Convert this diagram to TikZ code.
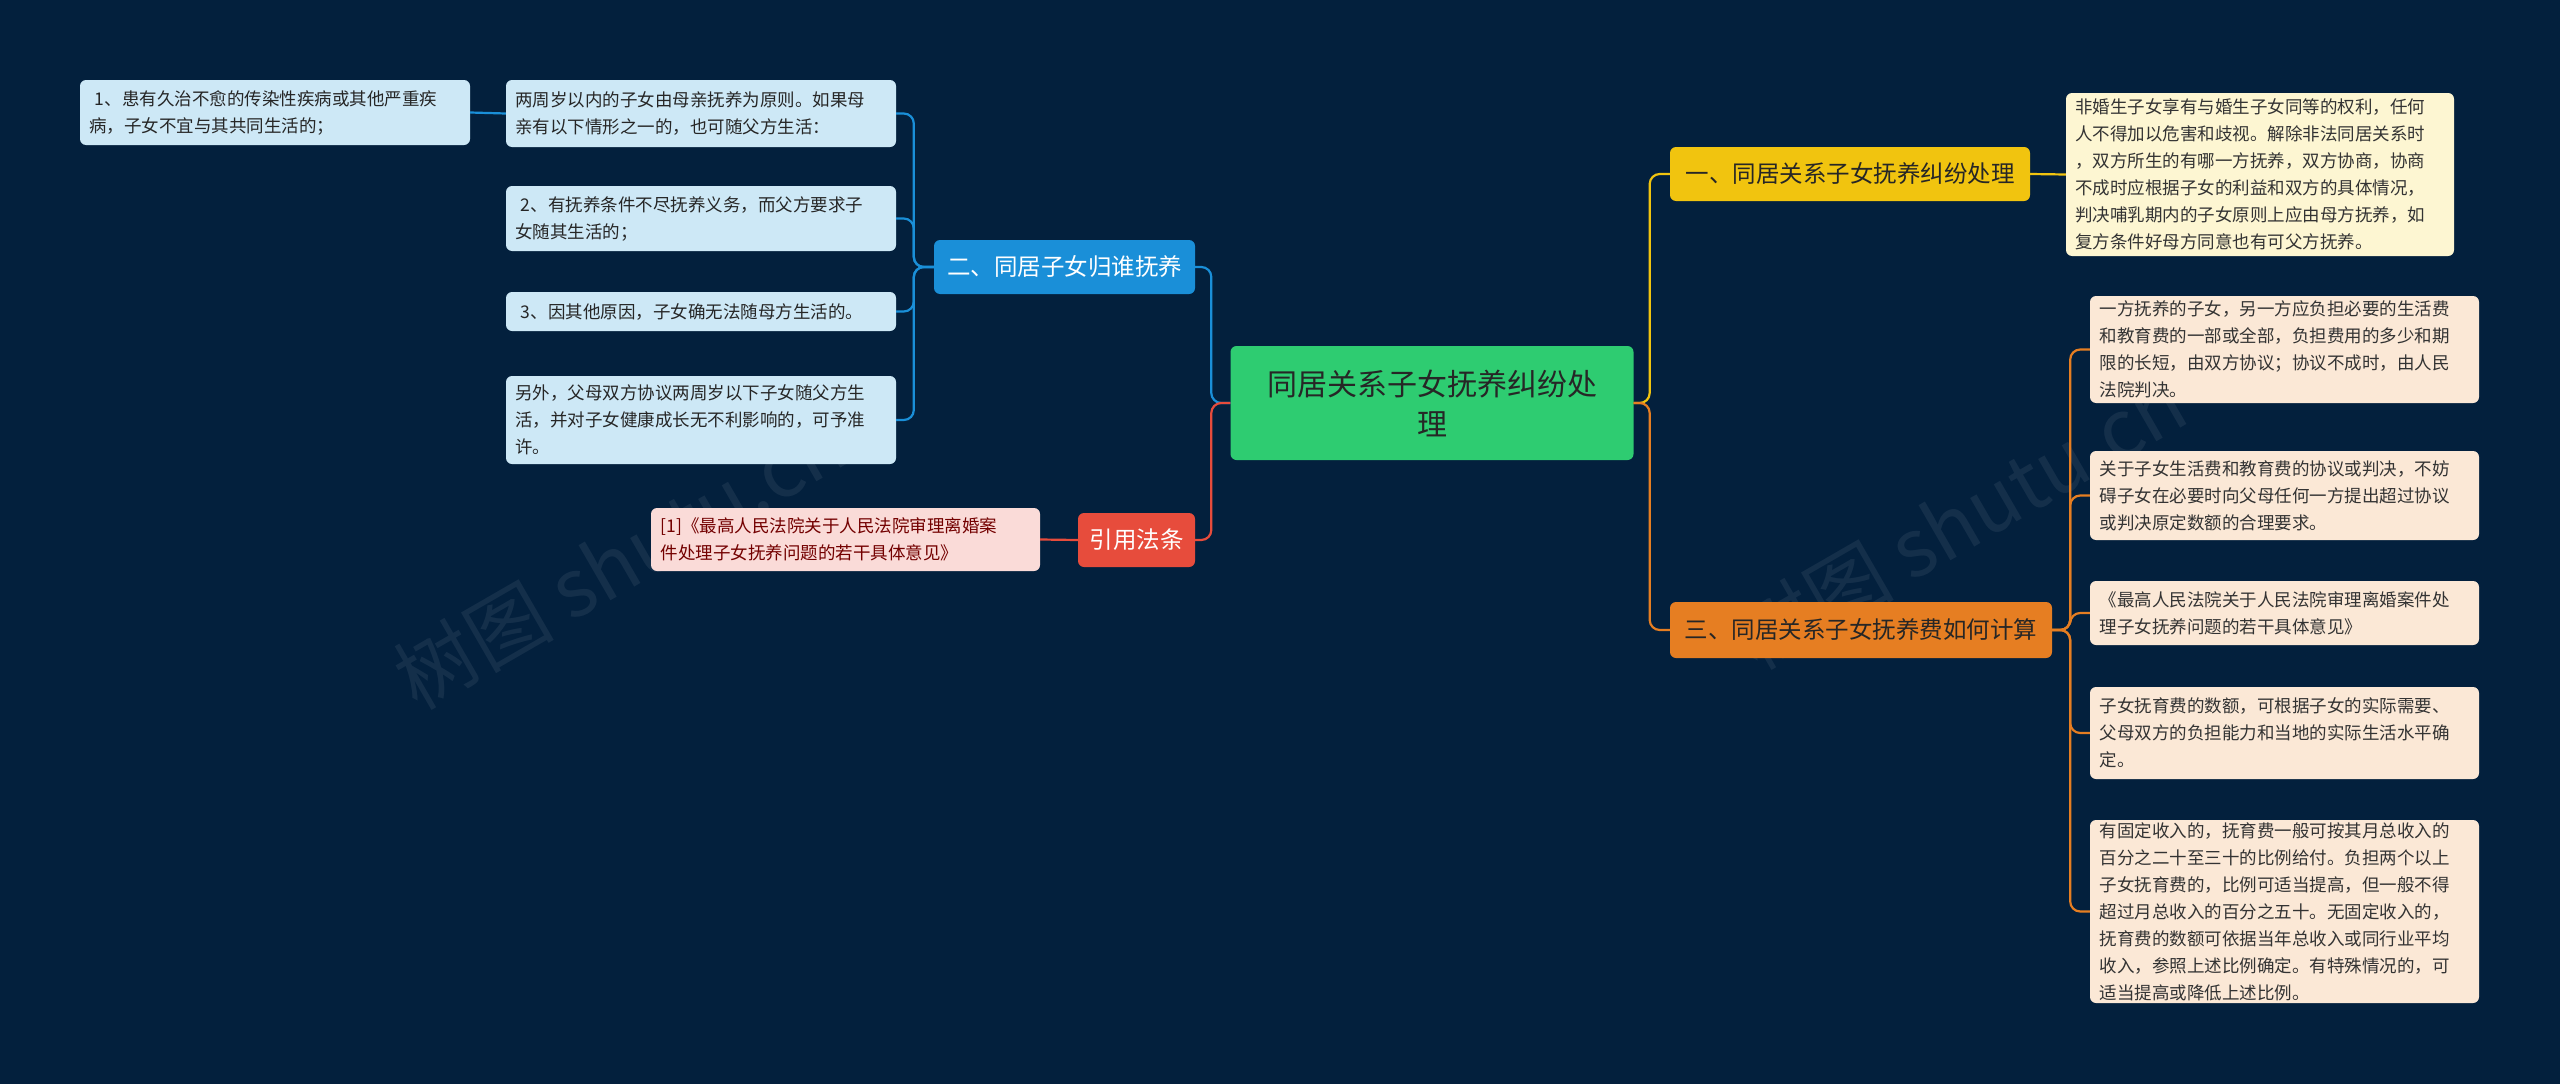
\documentclass[tikz,border=0pt]{standalone}
\usepackage{fontspec}
\setmainfont{Noto Sans CJK SC}
\begin{document}
\begin{tikzpicture}[x=1pt,y=-1pt,
  box/.style={rounded corners=6pt, inner sep=0pt, align=left, font=\fontsize{17.5}{27}\selectfont},
  leafb/.style={box, fill=lb, text=black!85},
  leafy/.style={box, fill=ly, text=black!80},
  leafo/.style={box, fill=lo, text=black!80},
  leafr/.style={box, fill=lr, text=red!45!black},
  br/.style={rounded corners=6pt, inner sep=0pt, font=\fontsize{23.5}{28}\selectfont},
  con/.style={line width=2.2pt, rounded corners=10pt}]
\definecolor{bg}{HTML}{03203D}
\definecolor{lb}{HTML}{CDE8F6}
\definecolor{ly}{HTML}{FDF6D2}
\definecolor{lo}{HTML}{FBE8D6}
\definecolor{lr}{HTML}{FADBD8}
\definecolor{cg}{HTML}{2ECC71}
\definecolor{cy}{HTML}{F1C40F}
\definecolor{co}{HTML}{E67E22}
\definecolor{cb}{HTML}{1A8FD8}
\definecolor{cr}{HTML}{E74C3C}
\fill[bg] (0,0) rectangle (2560,1084);
\useasboundingbox (0,0) rectangle (2560,1084);
% watermarks
\node[rotate=30, text=white, opacity=0.07, font=\fontsize{80}{80}\selectfont] (wm1) at (620,560) {树图 shutu.cn};
\node[rotate=30, text=white, opacity=0.07, font=\fontsize{80}{80}\selectfont] (wm2) at (1960,520) {树图 shutu.cn};
% center
\node[rounded corners=6pt, fill=cg, minimum width=403, minimum height=114, align=center, text width=380, font=\fontsize{30}{40}\selectfont, text=black!85] (c) at (1432,403) {同居关系子女抚养纠纷处\\理};
% right branches
\node[br, fill=cy, minimum width=360, minimum height=54, text=black!85] (b1) at (1850,174) {一、同居关系子女抚养纠纷处理};
\node[br, fill=co, minimum width=382, minimum height=56, text=black!85] (b3) at (1861,630) {三、同居关系子女抚养费如何计算};
\node[leafy, minimum width=388, minimum height=163, text width=370] (y1) at (2260,174.5) {非婚生子女享有与婚生子女同等的权利，任何\\人不得加以危害和歧视。解除非法同居关系时\\，双方所生的有哪一方抚养，双方协商，协商\\不成时应根据子女的利益和双方的具体情况，\\判决哺乳期内的子女原则上应由母方抚养，如\\复方条件好母方同意也有可父方抚养。};
\node[leafo, minimum width=389, minimum height=107, text width=370] (o1) at (2284.5,349.5) {一方抚养的子女，另一方应负担必要的生活费\\和教育费的一部或全部，负担费用的多少和期\\限的长短，由双方协议；协议不成时，由人民\\法院判决。};
\node[leafo, minimum width=389, minimum height=89, text width=370] (o2) at (2284.5,495.5) {关于子女生活费和教育费的协议或判决，不妨\\碍子女在必要时向父母任何一方提出超过协议\\或判决原定数额的合理要求。};
\node[leafo, minimum width=389, minimum height=64, text width=370] (o3) at (2284.5,613) {《最高人民法院关于人民法院审理离婚案件处\\理子女抚养问题的若干具体意见》};
\node[leafo, minimum width=389, minimum height=92, text width=370] (o4) at (2284.5,733) {子女抚育费的数额，可根据子女的实际需要、\\父母双方的负担能力和当地的实际生活水平确\\定。};
\node[leafo, minimum width=389, minimum height=183, text width=370] (o5) at (2284.5,911.5) {有固定收入的，抚育费一般可按其月总收入的\\百分之二十至三十的比例给付。负担两个以上\\子女抚育费的，比例可适当提高，但一般不得\\超过月总收入的百分之五十。无固定收入的，\\抚育费的数额可依据当年总收入或同行业平均\\收入，参照上述比例确定。有特殊情况的，可\\适当提高或降低上述比例。};
% left branches
\node[br, fill=cb, minimum width=261, minimum height=54, text=white] (b2) at (1064.5,267) {二、同居子女归谁抚养};
\node[br, fill=cr, minimum width=117, minimum height=54, text=white] (b4) at (1136.5,540) {引用法条};
\node[leafb, minimum width=390, minimum height=67, text width=372] (a1) at (701,113.5) {两周岁以内的子女由母亲抚养为原则。如果母\\亲有以下情形之一的，也可随父方生活：};
\node[leafb, minimum width=390, minimum height=65, text width=372] (a2) at (701,218.5) {\ 2、有抚养条件不尽抚养义务，而父方要求子\\女随其生活的；};
\node[leafb, minimum width=390, minimum height=39, text width=372] (a3) at (701,311.5) {\ 3、因其他原因，子女确无法随母方生活的。};
\node[leafb, minimum width=390, minimum height=88, text width=372] (a4) at (701,420) {另外，父母双方协议两周岁以下子女随父方生\\活，并对子女健康成长无不利影响的，可予准\\许。};
\node[leafb, minimum width=390, minimum height=65, text width=372] (f1) at (275,112.5) {\ 1、患有久治不愈的传染性疾病或其他严重疾\\病，子女不宜与其共同生活的；};
\node[leafr, minimum width=389, minimum height=63, text width=370] (r1) at (845.5,539.5) {[1]《最高人民法院关于人民法院审理离婚案\\件处理子女抚养问题的若干具体意见》};
% connectors
\draw[con, cy] (c.east) -- ++(16,0) |- (b1.west);
\draw[con, co] (c.east) -- ++(16,0) |- (b3.west);
\draw[con, cy] (b1.east) -- (y1.west);
\foreach \n in {o1,o2,o3,o4,o5} \draw[con, co] (b3.east) -- ++(18,0) |- (\n.west);
\draw[con, cb] (c.west) -- ++(-19,0) |- (b2.east);
\draw[con, cr] (c.west) -- ++(-19,0) |- (b4.east);
\foreach \n in {a1,a2,a3,a4} \draw[con, cb] (b2.west) -- ++(-20,0) |- (\n.east);
\draw[con, cb] (a1.west) -- (f1.east);
\draw[con, cr] (b4.west) -- (r1.east);
\end{tikzpicture}
\end{document}
